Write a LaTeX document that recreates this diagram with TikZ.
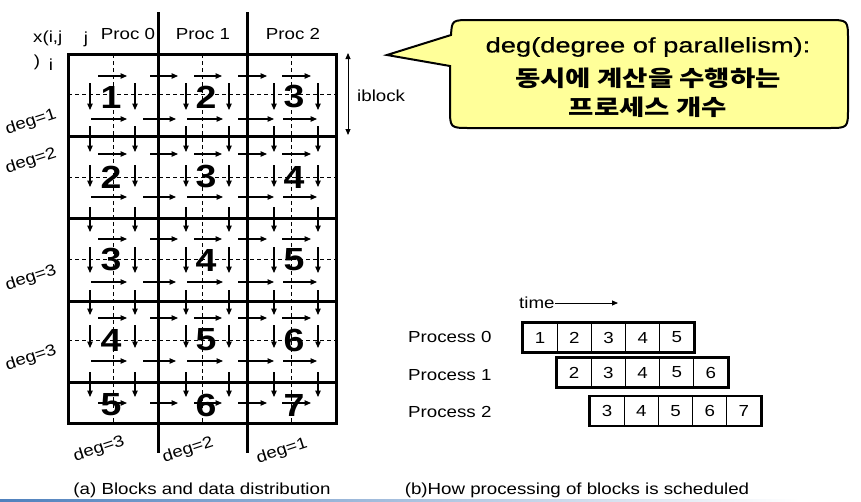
\documentclass[tikz,border=0pt]{standalone}
\usepackage{fontspec}
\setmainfont{Liberation Sans}[FakeStretch=1.17]
\newfontfamily\kr{Noto Sans CJK KR}[FakeStretch=1.25]
\newfontfamily\wide{Liberation Sans}[FakeStretch=1.3,FakeBold=0.6]
\usetikzlibrary{arrows.meta}
\definecolor{calloutfill}{HTML}{FFFF99}
\definecolor{slideblue}{RGB}{79,129,189}
\begin{document}
\begin{tikzpicture}[x=1pt,y=-1pt,
  arr/.style={-{Triangle[length=6.5pt,width=5.5pt]},line width=1.1pt},
  thickline/.style={line width=3pt},
  dashline/.style={dash pattern=on 4pt off 3pt, line width=0.9pt},
  big/.style={font=\fontsize{32}{32}\selectfont\bfseries, inner sep=0pt},
  lbl/.style={font=\fontsize{16}{19}\selectfont, inner sep=0pt},
  deglbl/.style={lbl, rotate=18},
  cell/.style={draw, line width=0.8pt, minimum width=34.2pt, minimum height=29pt, inner sep=0pt, font=\fontsize{16}{19}\selectfont},
  ctext/.style={inner sep=0pt}
]
\useasboundingbox (0,0) rectangle (861,501);
\fill[white] (0,0) rectangle (861,501);

% dashed lines of the grid
\foreach \y in {94,177,259,340} \draw[dashline] (68,\y) -- (336,\y);
\foreach \x in {113,202,291} \draw[dashline] (\x,54) -- (\x,423);

% big block numbers
\foreach \r/\y in {0/97,1/177,2/260,3/340,4/405}
  \foreach \c/\x in {0/111,1/206,2/294} {
    \pgfmathtruncatemacro\n{\r+\c+1}
    \node[big] (n\r\c) at (\x,\y) {\n};
  }

% horizontal data arrows
\foreach \y in {76,154,239,318,403}
  \foreach \a/\b in {98/127,150/178,194/222,238/267,282/311}
    \draw[arr] (\a,\y) -- (\b,\y);
\foreach \y in {119,197,282,361}
  \foreach \a/\b in {91/127,143/176,187/223,238/274,283/317}
    \draw[arr] (\a,\y) -- (\b,\y);
% vertical data arrows
\foreach \x in {90,135,186,229,274,318}
  \foreach \a/\b in {83/110,126/152,165/187,207/232,247/273,290/315,325/348,372/397}
    \draw[arr] (\x,\a) -- (\x,\b);

% thick grid lines
\draw[thickline] (68,54) rectangle (336,423);
\foreach \y in {136,218,301,382} \draw[thickline] (68,\y) -- (336,\y);
\foreach \x in {158,247} \draw[thickline] (\x,12) -- (\x,453);

% headers
\node[lbl] (p0) at (128,34) {Proc 0};
\node[lbl] (p1) at (203,34) {Proc 1};
\node[lbl] (p2) at (293,34) {Proc 2};
\node[lbl, anchor=west] (xij) at (33,38.5) {x(i,j};
\node[lbl] (rp) at (37,62) {)};
\node[lbl] (ii) at (51,65) {i};
\node[lbl] (jj) at (86,39) {j};

% iblock
\coordinate (ibt) at (348,53);
\coordinate (ibb) at (348,135);
\draw[{Triangle[length=6pt,width=5pt]}-{Triangle[length=6pt,width=5pt]}, line width=0.9pt] (ibt) -- (ibb);
\node[lbl, anchor=west] (ib) at (357,96) {iblock};

% deg labels
\node[deglbl] (dl1) at (31,122) {deg=1};
\node[deglbl] (dl2) at (31,161) {deg=2};
\node[deglbl] (dl3) at (31,278) {deg=3};
\node[deglbl] (dl4) at (31,358) {deg=3};
\node[deglbl] (db1) at (99,449) {deg=3};
\node[deglbl] (db2) at (188,450) {deg=2};
\node[deglbl] (db3) at (282,451) {deg=1};

% callout
\draw[line width=2pt, fill=calloutfill] (387,55) -- (451,35) .. controls (452,20) .. (472,20) -- (828,20) .. controls (848,20) .. (848,40) -- (848,108) .. controls (848,128) .. (828,128) -- (470,128) .. controls (450,128) .. (450,108) -- (450,66) -- cycle;
\node[ctext, font=\wide\fontsize{21}{25}\selectfont] (c1) at (648,47) {deg(degree of parallelism):};
\node[ctext, font=\kr\bfseries\fontsize{22}{26}\selectfont] (c2) at (648,78) {동시에 계산을 수행하는};
\node[ctext, font=\kr\bfseries\fontsize{22}{26}\selectfont] (c3) at (648,107) {프로세스 개수};

% timeline
\node[lbl, anchor=west] (time) at (519,303) {time};
\coordinate (tend) at (618,303);
\draw[-{Triangle[length=6pt,width=5pt]}, line width=0.8pt] (time.east) -- (tend);

\foreach \r/\x/\y/\s in {0/540.1/337.5/1, 1/574.1/372.5/2, 2/607.1/411/3} {
  \foreach \k in {0,...,4} {
    \pgfmathtruncatemacro\n{\s+\k}
    \node[cell] (t\r\k) at (\x+\k*34.2,\y) {\n};
  }
  \draw[line width=2.6pt] (t\r0.north west) rectangle (t\r4.south east);
}
\node[lbl, anchor=west] (pr0) at (408,337) {Process 0};
\node[lbl, anchor=west] (pr1) at (408,375) {Process 1};
\node[lbl, anchor=west] (pr2) at (408,412) {Process 2};

% captions
\node[lbl] (capa) at (202,490) {(a) Blocks and data distribution};
\node[lbl] (capb) at (577,490) {(b)How processing of blocks is scheduled};
\shade[left color=slideblue, right color=white] (0,499.5) rectangle (800,501);
\end{tikzpicture}
\end{document}
